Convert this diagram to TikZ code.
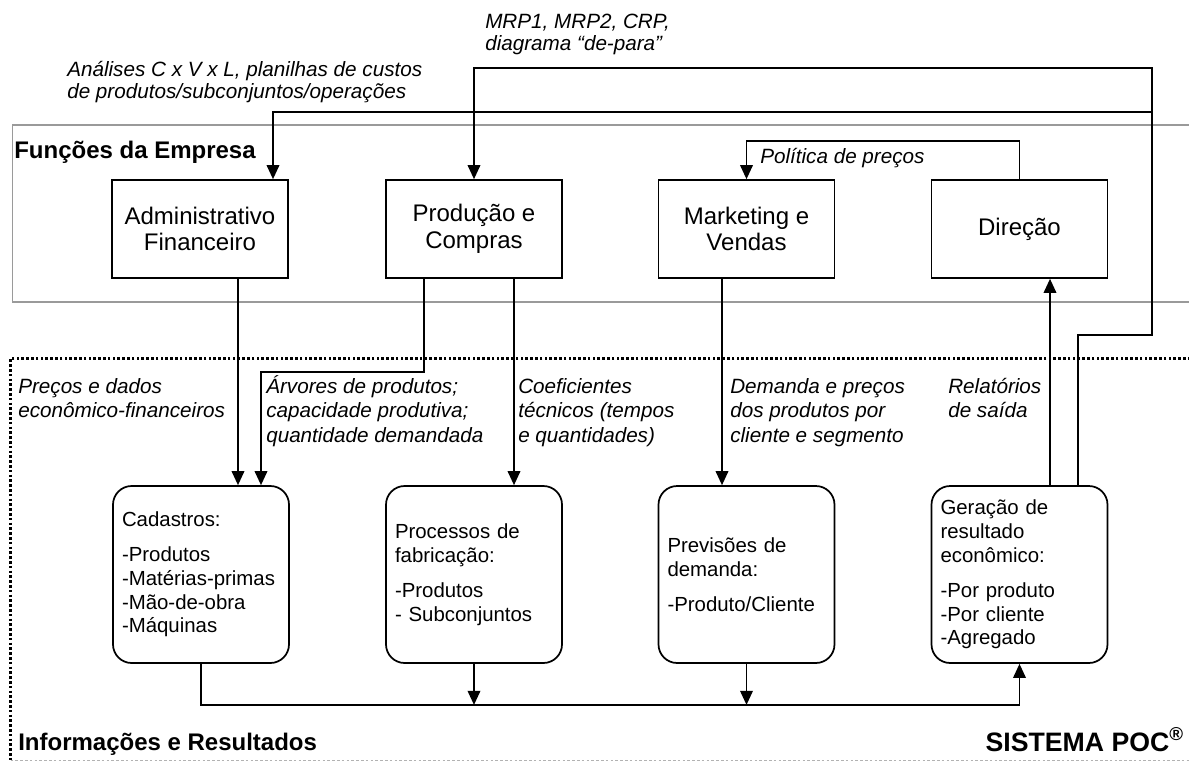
\documentclass[tikz,border=0pt]{standalone}
\usepackage{fontspec}
\setmainfont{Liberation Sans}
\usetikzlibrary{arrows.meta,calc}
\definecolor{framegray}{HTML}{9A9A9A}
\begin{document}
\begin{tikzpicture}[x=0.75pt,y=-0.75pt,
  box/.style={draw,line width=1.3pt,minimum width=132pt,minimum height=73.5pt,inner sep=0pt,align=center,font={\fontsize{18}{20}\selectfont}},
  rbox/.style={draw,line width=1.3pt,rounded corners=14pt,minimum width=132pt,minimum height=132.75pt,text width=118.5pt,inner xsep=6.75pt,inner ysep=0pt,align=left,font={\fontsize{15.3}{17.8}\selectfont}},
  conn/.style={line width=1pt},
  arr/.style={conn,-{Triangle[width=9.5pt,length=10.5pt]}},
  lab/.style={anchor=base west,inner sep=0pt,align=left,font={\fontsize{15.5}{18.2}\selectfont\itshape}},
  labt/.style={lab,font={\fontsize{15.5}{16.2}\selectfont\itshape}},
  head/.style={inner sep=0pt,font={\fontsize{18}{20}\selectfont\bfseries}}]
\useasboundingbox (0,0) rectangle (1189,761);
% containers
\draw[framegray,line width=1.1pt] (1200,125) -- (12.5,125) -- (12.5,302) -- (1200,302);
\draw[line width=2pt,dash pattern=on 2pt off 1.6pt] (1200,358.5) -- (10.5,358.5) -- (10.5,762);
\draw[black!30,line width=0.8pt,dash pattern=on 2pt off 1.6pt] (10.5,760.4) -- (1200,760.4);
% top boxes
\node[box] (adm) at (200,229) {Administrativo\\Financeiro};
\node[box] (prod) at (474,229) {Produção e\\Compras};
\node[box] (mkt) at (746.5,229) {Marketing e\\Vendas};
\node[box] (dir) at (1019.5,229) {Direção};
% bottom boxes
\node[rbox] (cad) at (201,574.5) {Cadastros:\\[8.5pt]-Produtos\\-Matérias-primas\\-Mão-de-obra\\-Máquinas};
\node[rbox] (proc) at (474,574.5) {Processos de\\fabricação:\\[8.5pt]-Produtos\\- Subconjuntos};
\node[rbox] (prev) at (746.5,574.5) {Previsões de\\demanda:\\[8.5pt]-Produto/Cliente};
\node[rbox] (ger) at (1019.5,574.5) {Geração de\\resultado\\econômico:\\[8.5pt]-Por produto\\-Por cliente\\-Agregado};
% connectors
\draw[arr] ($(adm.south)+(38,0)$) -- ($(cad.north)+(37,0)$);
\coordinate (k1) at ($(cad.north)+(60,-113)$);
\draw[arr] ($(prod.south)+(-50,0)$) |- (k1) -- ($(cad.north)+(60,0)$);
\draw[arr] ($(prod.south)+(40,0)$) -- ($(proc.north)+(40,0)$);
\draw[arr] ($(mkt.south)+(-24.5,0)$) -- ($(prev.north)+(-24.5,0)$);
\draw[arr] ($(ger.north)+(30.5,0)$) -- ($(dir.south)+(30.5,0)$);
\coordinate (r1) at (1152,335);
\coordinate (r2) at (1152,68);
\coordinate (r3) at (1152,112);
\draw[arr] ($(ger.north)+(58.5,0)$) |- (r1) -- (r2) -| (prod.north);
\draw[arr] (r3) -| ($(adm.north)+(73,0)$);
\coordinate (pp) at ($(mkt.north)+(0,-38)$);
\draw[arr] (dir.north) |- (pp) -- (mkt.north);
\coordinate (b1) at ($(ger.south)+(0,41)$);
\draw[arr] (cad.south) |- (b1) -- (ger.south);
\draw[arr] (proc.south) -- (proc.south |- b1);
\draw[arr] (prev.south) -- (prev.south |- b1);
% labels (anchor = baseline of last line)
\node[labt] (lmrp) at (485,50) {MRP1, MRP2, CRP,\\diagrama “de-para”};
\node[labt] (lan) at (67,98) {Análises C x V x L, planilhas de custos\\de produtos/subconjuntos/operações};
\node[lab] (lpol) at (760,163) {Política de preços};
\node[lab] (lpre) at (18,417.5) {Preços e dados\\econômico-financeiros};
\node[lab] (larv) at (266,442) {Árvores de produtos;\\capacidade produtiva;\\quantidade demandada};
\node[lab] (lcoef) at (518,442) {Coeficientes\\técnicos (tempos\\e quantidades)};
\node[lab] (ldem) at (730,442) {Demanda e preços\\dos produtos por\\cliente e segmento};
\node[lab] (lrel) at (948,417.5) {Relatórios\\de saída};
% headings
\node[head,anchor=base west] (hfun) at (14,158) {Funções da Empresa};
\node[head,anchor=base west] (hinf) at (18,750) {Informações e Resultados};
\node[head,anchor=base east,font={\fontsize{20}{22}\selectfont\bfseries}] (hpoc) at (1184,751) {SISTEMA POC\textsuperscript{®}};
\end{tikzpicture}
\end{document}
